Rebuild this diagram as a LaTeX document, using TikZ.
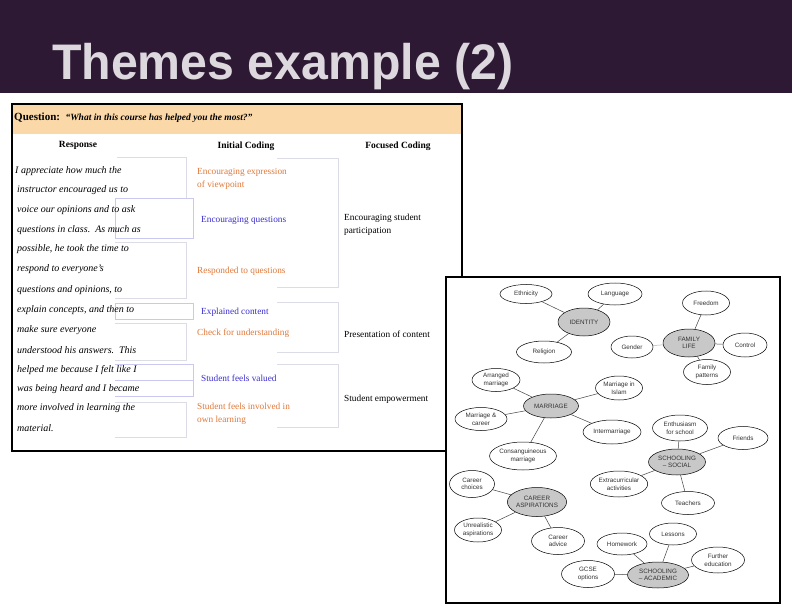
\documentclass[tikz,border=0pt]{standalone}
\usepackage{fontspec}
\setmainfont{Liberation Serif}
\newfontfamily\titlefont[FakeStretch=0.965]{Liberation Sans}
\newfontfamily\mapfont{Liberation Sans}
\usetikzlibrary{shapes.geometric}
\definecolor{banner}{HTML}{2D1934}
\definecolor{titlegray}{HTML}{DCD8DE}
\definecolor{peach}{HTML}{FAD8A8}
\definecolor{codeorange}{HTML}{E0783A}
\definecolor{codeblue}{HTML}{3A2ECC}
\definecolor{faintbox}{HTML}{DCDCE6}
\definecolor{lavbox}{HTML}{C8C8F0}
\definecolor{hubgray}{HTML}{C8C8C8}
\definecolor{mapgray}{HTML}{333333}
\definecolor{linkgray}{HTML}{444444}
\tikzset{
  leaf/.style={ellipse, draw=black, line width=0.5pt, fill=white, inner sep=0pt,
    font=\mapfont\fontsize{6.3}{7.6}\selectfont, text=mapgray, align=center},
  hub/.style={leaf, fill=hubgray},
  link/.style={draw=linkgray, line width=0.5pt},
  rtext/.style={anchor=west, inner sep=0pt, font=\itshape\fontsize{10}{12}\selectfont},
  icode/.style={anchor=west, inner sep=0pt, font=\fontsize{9.3}{13}\selectfont, align=left},
  head/.style={inner sep=0pt, font=\bfseries\fontsize{9.5}{11}\selectfont},
  fbox/.style={draw=faintbox, line width=0.6pt},
  lbox/.style={draw=lavbox, line width=0.6pt},
}
\begin{document}
\begin{tikzpicture}[x=1pt,y=-1pt]
\useasboundingbox (0,0) rectangle (792,612);
% banner
\fill[banner] (0,0) rectangle (792,93);
\node[anchor=base west, inner sep=0pt, text=titlegray,
  font=\titlefont\bfseries\fontsize{50}{50}\selectfont] (title) at (52,80) {Themes example (2)};

% ---------- table ----------
\filldraw[fill=white, draw=black, line width=2pt] (12,104) rectangle (462,451);
\fill[peach] (13,105) rectangle (461,134);
\node[anchor=west, inner sep=0pt] (q) at (14,118)
  {\fontsize{11}{12}\selectfont\bfseries Question:\ \ \fontsize{9.5}{11}\selectfont\bfseries\itshape “What in this course has helped you the most?”};
\node[head] (h1) at (78,145) {Response};
\node[head] (h2) at (246,146) {Initial Coding};
\node[head] (h3) at (398,146) {Focused Coding};

% faint boxes
\draw[fbox] (117,157) -- (186,157) -- (186,198);
\draw[lbox] (115,198) rectangle (193,238);
\draw[fbox] (115,242) -- (186,242) -- (186,298) -- (115,298);
\draw[lbox] (115,303) rectangle (193,319);
\draw[fbox] (115,323) -- (186,323) -- (186,360) -- (115,360);
\draw[lbox] (115,364) -- (193,364) -- (193,396) -- (115,396);
\draw[lbox] (115,380) -- (193,380);
\draw[fbox] (115,402) -- (186,402) -- (186,437) -- (115,437);
\draw[fbox] (277,158) -- (338,158) -- (338,287) -- (277,287);
\draw[fbox] (277,302) -- (338,302) -- (338,352) -- (277,352);
\draw[fbox] (277,364) -- (338,364) -- (338,427) -- (277,427);

% response text
\node[rtext] (r1) at (15,171) {I appreciate how much the};
\node[rtext] (r2) at (17,190.5) {instructor encouraged us to};
\node[rtext] (r3) at (17,210) {voice our opinions and to ask};
\node[rtext] (r4) at (17,230) {questions in class.\ \ As much as};
\node[rtext] (r5) at (17,249.5) {possible, he took the time to};
\node[rtext] (r6) at (17,269.5) {respond to everyone’s};
\node[rtext] (r7) at (17,290.5) {questions and opinions, to};
\node[rtext] (r8) at (17,310.5) {explain concepts, and then to};
\node[rtext] (r9) at (17,330.5) {make sure everyone};
\node[rtext] (r10) at (17,350.5) {understood his answers.\ \ This};
\node[rtext] (r11) at (17,370) {helped me because I felt like I};
\node[rtext] (r12) at (17,389) {was being heard and I became};
\node[rtext] (r13) at (17,408.5) {more involved in learning the};
\node[rtext] (r14) at (17,428) {material.};

% initial coding
\node[icode, text=codeorange] (c1) at (197,178.5) {Encouraging expression\\of viewpoint};
\node[icode, text=codeblue] (c2) at (201,220) {Encouraging questions};
\node[icode, text=codeorange] (c3) at (197,271.5) {Responded to questions};
\node[icode, text=codeblue] (c4) at (201,312) {Explained content};
\node[icode, text=codeorange] (c5) at (197,333.5) {Check for understanding};
\node[icode, text=codeblue] (c6) at (201,378) {Student feels valued};
\node[icode, text=codeorange] (c7) at (197,413.5) {Student feels involved in\\own learning};

% focused coding
\node[icode] (f1) at (344,225) {Encouraging student\\participation};
\node[icode] (f2) at (344,334) {Presentation of content};
\node[icode] (f3) at (344,399) {Student empowerment};

% ---------- mind map ----------
\filldraw[fill=white, draw=black, line width=2pt] (446,277) rectangle (780,603);

\node[leaf, minimum width=52pt, minimum height=19pt] (eth) at (526,294) {Ethnicity};
\node[leaf, minimum width=54pt, minimum height=22pt] (lang) at (615,294) {Language};
\node[hub, minimum width=52pt, minimum height=28pt] (ident) at (584,322) {IDENTITY};
\node[leaf, minimum width=55pt, minimum height=22pt] (rel) at (544,352) {Religion};
\node[leaf, minimum width=47pt, minimum height=24pt] (free) at (706,303) {Freedom};
\node[hub, minimum width=52pt, minimum height=28pt] (fam) at (689,343) {FAMILY\\LIFE};
\node[leaf, minimum width=42pt, minimum height=22pt] (gen) at (632,347) {Gender};
\node[leaf, minimum width=44pt, minimum height=24pt] (ctrl) at (745,345) {Control};
\node[leaf, minimum width=47pt, minimum height=25pt] (fpat) at (707,372) {Family\\patterns};
\node[leaf, minimum width=48pt, minimum height=23pt] (arr) at (496,380) {Arranged\\marriage};
\node[hub, minimum width=55pt, minimum height=24pt] (marr) at (551,406) {MARRIAGE};
\node[leaf, minimum width=47pt, minimum height=24pt] (isl) at (619,388) {Marriage in\\Islam};
\node[leaf, minimum width=52pt, minimum height=23pt] (mcar) at (481,419) {Marriage \&\\career};
\node[leaf, minimum width=58pt, minimum height=24pt] (inter) at (612,432) {Intermarriage};
\node[leaf, minimum width=64pt, minimum height=28pt] (cons) at (523,456) {Consanguineous\\marriage};
\node[leaf, minimum width=55pt, minimum height=26pt] (enth) at (680,428) {Enthusiasm\\for school};
\node[leaf, minimum width=50pt, minimum height=23pt] (fri) at (743,438) {Friends};
\node[hub, minimum width=57pt, minimum height=26pt] (ssoc) at (677,462) {SCHOOLING\\– SOCIAL};
\node[leaf, minimum width=57pt, minimum height=26pt] (extra) at (619,484) {Extracurricular\\activities};
\node[leaf, minimum width=45pt, minimum height=27pt] (cch) at (472,484) {Career\\choices};
\node[hub, minimum width=57pt, minimum height=29pt] (car) at (537,502) {CAREER\\ASPIRATIONS};
\node[leaf, minimum width=53pt, minimum height=23pt] (teach) at (688,503) {Teachers};
\node[leaf, minimum width=47pt, minimum height=24pt] (unr) at (478,530) {Unrealistic\\aspirations};
\node[leaf, minimum width=53pt, minimum height=27pt] (cadv) at (558,541) {Career\\advice};
\node[leaf, minimum width=47pt, minimum height=22pt] (less) at (673,534) {Lessons};
\node[leaf, minimum width=50pt, minimum height=22pt] (home) at (622,544) {Homework};
\node[leaf, minimum width=53pt, minimum height=26pt] (fed) at (718,560) {Further\\education};
\node[leaf, minimum width=53pt, minimum height=27pt] (gcse) at (588,574) {GCSE\\options};
\node[hub, minimum width=61pt, minimum height=26pt] (sacad) at (658,575) {SCHOOLING\\– ACADEMIC};

\draw[link] (eth) -- (ident);
\draw[link] (lang) -- (ident);
\draw[link] (rel) -- (ident);
\draw[link] (free) -- (fam);
\draw[link, draw=gray!60] (gen) -- (fam);
\draw[link] (ctrl) -- (fam);
\draw[link] (fpat) -- (fam);
\draw[link] (arr) -- (marr);
\draw[link] (isl) -- (marr);
\draw[link] (mcar) -- (marr);
\draw[link] (inter) -- (marr);
\draw[link] (cons) -- (marr);
\draw[link] (enth) -- (ssoc);
\draw[link] (fri) -- (ssoc);
\draw[link] (extra) -- (ssoc);
\draw[link] (teach) -- (ssoc);
\draw[link] (cch) -- (car);
\draw[link] (unr) -- (car);
\draw[link] (cadv) -- (car);
\draw[link] (home) -- (sacad);
\draw[link] (less) -- (sacad);
\draw[link] (fed) -- (sacad);
\draw[link] (gcse) -- (sacad);
\end{tikzpicture}
\end{document}
